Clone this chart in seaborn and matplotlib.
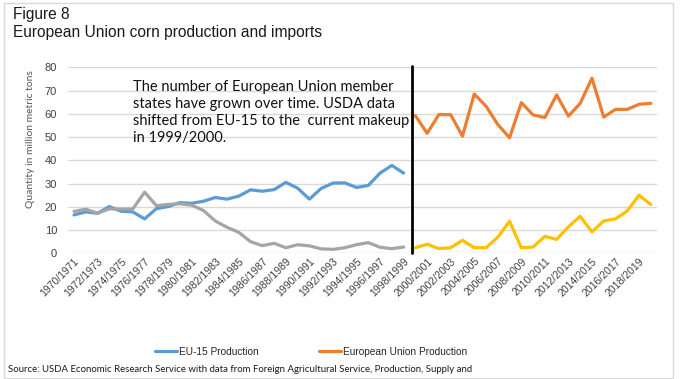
import matplotlib
matplotlib.use("Agg")
import matplotlib.pyplot as plt
import seaborn as sns
import pandas as pd
from matplotlib.lines import Line2D
from matplotlib.patches import Rectangle

# ---- data ----
first_years = list(range(1970, 2020))
season_labels = [f"{y}/{y + 1}" for y in first_years]

eu15_production = [16.5, 17.8, 17.2, 20.1, 18.1, 17.8, 14.8, 19.2, 20.1, 21.8,
                   21.5, 22.4, 24.0, 23.3, 24.6, 27.3, 26.7, 27.4, 30.5, 28.0,
                   23.3, 27.9, 30.2, 30.3, 28.3, 29.2, 34.5, 37.8, 34.5]
eu15_imports = [18.0, 19.0, 17.2, 19.1, 19.0, 19.1, 26.3, 20.5, 21.0, 21.3,
                20.7, 18.4, 13.9, 11.2, 9.0, 5.0, 3.3, 4.3, 2.4, 3.7,
                3.2, 1.9, 1.7, 2.4, 3.7, 4.6, 2.6, 2.0, 2.7]
eu_production = [59.2, 51.6, 59.7, 59.6, 50.4, 68.5, 63.3, 55.4, 49.7, 64.8,
                 59.5, 58.4, 68.1, 59.0, 64.5, 75.3, 58.6, 61.9, 61.9, 64.1, 64.5]
eu_imports = [2.4, 3.9, 2.0, 2.4, 5.6, 2.4, 2.4, 6.9, 13.8, 2.4,
              2.7, 7.3, 6.0, 11.4, 15.9, 9.2, 13.9, 14.8, 18.2, 25.0, 21.0]

series_names = ["EU-15 Production", "European Union Production",
                "EU-15 Imports", "European Union Imports"]
colors = ["#5B9BD5", "#ED7D31", "#A5A5A5", "#FFC000"]

n15 = len(eu15_production)
rows = []
for i, v in enumerate(eu15_production):
    rows.append((i, v, series_names[0]))
for i, v in enumerate(eu_production):
    rows.append((n15 + i, v, series_names[1]))
for i, v in enumerate(eu15_imports):
    rows.append((i, v, series_names[2]))
for i, v in enumerate(eu_imports):
    rows.append((n15 + i, v, series_names[3]))
df = pd.DataFrame(rows, columns=["idx", "value", "series"])

# ---- figure ----
sns.set_theme(style="white")
plt.rcParams['font.family'] = ['Liberation Sans', 'DejaVu Sans']

fig = plt.figure(figsize=(6.8, 3.79), dpi=100)
W, H = 680, 379
ax = fig.add_axes([68.1 / W, 1 - 253.3 / H, 588.6 / W, 186.0 / H])

sns.lineplot(data=df, x="idx", y="value", hue="series", hue_order=series_names,
             palette=colors, linewidth=2.3, ax=ax, legend=False, sort=True)

ax.set_xlim(-0.5, 49.5)
ax.set_ylim(0, 80)
ax.set_yticks(range(0, 81, 10))
ax.yaxis.grid(True, color="#D9D9D9", linewidth=1.0)
ax.set_axisbelow(True)
for s in ax.spines.values():
    s.set_visible(False)
ax.tick_params(axis="y", labelsize=8, colors="#404040", length=0, pad=8)
ax.set_xticks(range(0, 50, 2))
ax.set_xticklabels(season_labels[::2], rotation=45, ha="right",
                   rotation_mode="anchor", fontsize=7.5, color="#404040")
ax.tick_params(axis="x", length=0, pad=2)
ax.set_xlabel("")
ax.set_ylabel("")

# divider
ax.axvline(28.72, ymin=0, ymax=1.005, color="black", linewidth=2, clip_on=False)

# annotation (no box: gridlines show through)
fig.text(133 / W, 1 - 80 / H,
         "The number of European Union member\nstates have grown over time. USDA data\n"
         "shifted from EU-15 to the  current makeup\nin 1999/2000.",
         family=["Lato", "DejaVu Sans"], fontsize=10.5, color="#111111",
         va="top", ha="left", linespacing=1.27)

# y label
fig.text(31 / W, 1 - 139 / H, "Quantity in million metric tons", rotation=90,
         family=["Lato", "DejaVu Sans"], fontsize=7.5, color="#595959",
         ha="center", va="center")

# titles
fig.text(13 / W, 1 - 15 / H, "Figure 8", fontsize=11.2, color="#1a1a1a",
         ha="left", va="center")
fig.text(13 / W, 1 - 33 / H, "European Union corn production and imports",
         fontsize=11.2, color="#1a1a1a", ha="left", va="center")

# legend
handles = [Line2D([], [], color=colors[0], lw=2.3),
           Line2D([], [], color=colors[1], lw=2.3)]
fig.legend(handles, series_names[:2], loc="center left",
           bbox_to_anchor=(155 / W, 1 - 352 / H), ncol=2, frameon=False,
           fontsize=7.3, handlelength=2.2, handletextpad=0.2, columnspacing=5.9,
           borderpad=0, borderaxespad=0)

# source
fig.text(8 / W, 1 - 370 / H,
         "Source: USDA Economic Research Service with data from Foreign Agricultural Service, Production, Supply and",
         family=["Lato", "DejaVu Sans"], fontsize=6.9, color="#1a1a1a", ha="left", va="center")

# border
fig.patches.append(Rectangle((4 / W, 1 / H), 669 / W, 375 / H, transform=fig.transFigure,
                             fill=False, edgecolor="#D9D9D9", linewidth=1))

fig.savefig("out.png", dpi=100)
